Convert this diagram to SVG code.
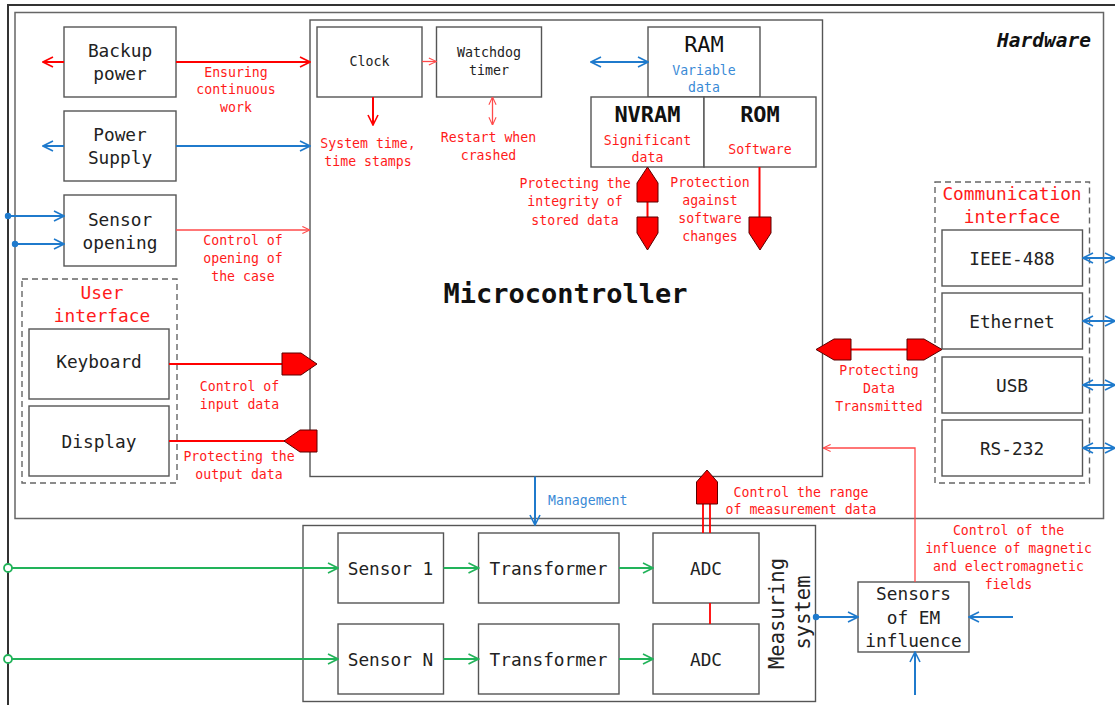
<svg xmlns="http://www.w3.org/2000/svg" width="1115" height="705" viewBox="0 0 1115 705">
<style>
text{font-family:"DejaVu Sans Mono","Liberation Mono",monospace;text-anchor:middle;dominant-baseline:central}
.box{fill:#fff;stroke:#555;stroke-width:1.4}
.dash{fill:none;stroke:#666;stroke-width:1.4;stroke-dasharray:6 4}
.t18{font-size:17.8px;fill:#222}
.t13{font-size:13.3px;fill:#222}
.r13{font-size:13.2px;fill:#ff1a1a}
.b13{font-size:13.2px;fill:#3a8ad6}
.r18{font-size:17.8px;fill:#ff1a1a}
.big{font-size:22px;fill:#111}
.red{stroke:#f00;stroke-width:2;fill:none}
.lred{stroke:#ff4a4a;stroke-width:1.3;fill:none}
.blue{stroke:#1f7acc;stroke-width:2;fill:none}
.green{stroke:#22b35a;stroke-width:2;fill:none}
.pent{fill:#f00;stroke:#5a0000;stroke-width:1}
</style>
<defs>
<marker id="ar" viewBox="0 0 12 12" refX="11" refY="6" markerWidth="12" markerHeight="12" markerUnits="userSpaceOnUse" orient="auto-start-reverse"><path d="M1,1 L11,6 L1,11" fill="none" stroke="#f00" stroke-width="1.6"/></marker>
<marker id="al" viewBox="0 0 10 10" refX="9.5" refY="5" markerWidth="9" markerHeight="9" markerUnits="userSpaceOnUse" orient="auto-start-reverse"><path d="M1,1 L9.5,5 L1,9" fill="none" stroke="#ff4a4a" stroke-width="1.2"/></marker>
<marker id="ab" viewBox="0 0 12 12" refX="11" refY="6" markerWidth="12" markerHeight="12" markerUnits="userSpaceOnUse" orient="auto-start-reverse"><path d="M1,1 L11,6 L1,11" fill="none" stroke="#1f7acc" stroke-width="1.6"/></marker>
<marker id="ag" viewBox="0 0 12 12" refX="11" refY="6" markerWidth="12" markerHeight="12" markerUnits="userSpaceOnUse" orient="auto-start-reverse"><path d="M1,1 L11,6 L1,11" fill="none" stroke="#22b35a" stroke-width="1.6"/></marker>
</defs>
<rect width="1115" height="705" fill="#fff"/>
<path d="M8,705 V5 H1115" fill="none" stroke="#333" stroke-width="2"/>
<g id="hardware">
<rect x="15" y="12.5" width="1088.5" height="506" fill="none" stroke="#666" stroke-width="1.5"/>
<text x="1044" y="40" style="font-size:19.5px;font-weight:bold;font-style:italic;fill:#111">Hardware</text>
</g>
<g id="microcontroller">
<rect class="box" x="310" y="20" width="512.5" height="456.5"/>
<text x="565.5" y="293" style="font-size:27px;font-weight:bold;fill:#111">Microcontroller</text>
</g>
<g id="backup-power"><rect class="box" x="64" y="27" width="112" height="70"/><text class="t18" x="120" y="50">Backup</text><text class="t18" x="120" y="73">power</text></g>
<g id="power-supply"><rect class="box" x="64" y="111" width="112" height="70"/><text class="t18" x="120" y="134">Power</text><text class="t18" x="120" y="157">Supply</text></g>
<g id="sensor-opening"><rect class="box" x="64" y="195" width="112" height="71"/><text class="t18" x="120" y="219">Sensor</text><text class="t18" x="120" y="242">opening</text></g>
<g id="user-interface"><rect class="dash" x="22" y="279" width="155" height="204"/><text class="r18" x="102" y="292.5">User</text><text class="r18" x="102" y="315.5">interface</text></g>
<g id="keyboard"><rect class="box" x="29" y="329" width="140" height="70"/><text class="t18" x="99" y="361">Keyboard</text></g>
<g id="display"><rect class="box" x="29" y="406" width="140" height="70"/><text class="t18" x="99" y="441">Display</text></g>
<g id="clock"><rect class="box" x="317" y="27" width="105" height="70"/><text class="t13" x="369.5" y="61">Clock</text></g>
<g id="watchdog"><rect class="box" x="436.5" y="27" width="105" height="70"/><text class="t13" x="489" y="52.5">Watchdog</text><text class="t13" x="489" y="70">timer</text></g>
<g id="ram"><rect class="box" x="648" y="27" width="112" height="70"/><text class="big" x="704" y="44">RAM</text><text class="b13" x="704" y="70">Variable</text><text class="b13" x="704" y="87.5">data</text></g>
<g id="nvram"><rect class="box" x="591" y="97" width="113" height="70"/><text class="big" x="647.5" y="114" style="font-weight:bold">NVRAM</text><text class="r13" x="647.5" y="140">Significant</text><text class="r13" x="647.5" y="157">data</text></g>
<g id="rom"><rect class="box" x="704" y="97" width="112" height="70"/><text class="big" x="760" y="114" style="font-weight:bold">ROM</text><text class="r13" x="760" y="149">Software</text></g>
<g id="communication-interface"><rect class="dash" x="935" y="182" width="154.5" height="301"/><text class="r18" x="1012" y="193.5">Communication</text><text class="r18" x="1012" y="216.5">interface</text></g>
<g id="ieee488"><rect class="box" x="942" y="230" width="140.5" height="56"/><text class="t18" x="1012" y="258">IEEE-488</text></g>
<g id="ethernet"><rect class="box" x="942" y="293" width="140.5" height="56"/><text class="t18" x="1012" y="321">Ethernet</text></g>
<g id="usb"><rect class="box" x="942" y="357" width="140.5" height="56"/><text class="t18" x="1012" y="385">USB</text></g>
<g id="rs232"><rect class="box" x="942" y="420" width="140.5" height="56"/><text class="t18" x="1012" y="448">RS-232</text></g>
<g id="measuring-system"><rect class="box" x="303" y="525.5" width="512.5" height="176"/><text x="0" y="0" transform="translate(776.5,613.5) rotate(-90)" style="font-size:20.5px;fill:#222">Measuring</text><text x="0" y="0" transform="translate(803,612.5) rotate(-90)" style="font-size:20.5px;fill:#222">system</text></g>
<g id="sensor-1"><rect class="box" x="338" y="533" width="105.5" height="70"/><text class="t18" x="390.5" y="568">Sensor 1</text></g>
<g id="sensor-n"><rect class="box" x="338" y="624" width="105.5" height="70"/><text class="t18" x="390.5" y="659">Sensor N</text></g>
<g id="transformer-1"><rect class="box" x="478.5" y="533" width="140.5" height="70"/><text class="t18" x="548.5" y="568">Transformer</text></g>
<g id="transformer-n"><rect class="box" x="478.5" y="624" width="140.5" height="70"/><text class="t18" x="548.5" y="659">Transformer</text></g>
<g id="adc-1"><rect class="box" x="653" y="533" width="106" height="70"/><text class="t18" x="706" y="568">ADC</text></g>
<g id="adc-n"><rect class="box" x="653" y="624" width="106" height="70"/><text class="t18" x="706" y="659">ADC</text></g>
<g id="em-sensors"><rect class="box" x="858" y="582" width="111" height="70"/><text class="t18" x="913.5" y="593.5">Sensors</text><text class="t18" x="913.5" y="617">of EM</text><text class="t18" x="913.5" y="640">influence</text></g>
<g id="connectors">
<line class="red" x1="64" y1="62" x2="43" y2="62" marker-end="url(#ar)"/>
<line class="red" x1="176" y1="62" x2="310" y2="62" marker-end="url(#ar)"/>
<text class="r13" x="236" y="72">Ensuring</text><text class="r13" x="236" y="89.5">continuous</text><text class="r13" x="236" y="107">work</text>
<line class="blue" x1="64" y1="146" x2="43" y2="146" marker-end="url(#ab)"/>
<line class="blue" x1="176" y1="146" x2="310" y2="146" marker-end="url(#ab)"/>
<line class="blue" x1="8" y1="216" x2="64" y2="216" marker-end="url(#ab)"/>
<line class="blue" x1="15" y1="244" x2="64" y2="244" marker-end="url(#ab)"/>
<circle cx="8" cy="216" r="3.2" fill="#1f7acc"/><circle cx="15" cy="244" r="3.2" fill="#1f7acc"/>
<line class="lred" x1="176" y1="230" x2="310" y2="230" marker-end="url(#al)"/>
<text class="r13" x="243" y="240.5">Control of</text><text class="r13" x="243" y="258.5">opening of</text><text class="r13" x="243" y="276.5">the case</text>
<line class="red" x1="169" y1="364" x2="282" y2="364"/>
<polygon class="pent" points="282,353 301,353 317,364 301,375 282,375"/>
<text class="r13" x="239.5" y="386.5">Control of</text><text class="r13" x="239.5" y="404">input data</text>
<line class="red" x1="169" y1="441" x2="285" y2="441"/>
<polygon class="pent" points="317,430 300,430 284,441 300,452 317,452"/>
<text class="r13" x="239" y="456.5">Protecting the</text><text class="r13" x="239" y="474">output data</text>
<line class="lred" x1="422" y1="61.5" x2="436.5" y2="61.5" marker-end="url(#al)"/>
<line class="red" x1="373" y1="97" x2="373" y2="125" marker-end="url(#ar)"/>
<text class="r13" x="368" y="143.5">System time,</text><text class="r13" x="368" y="161.5">time stamps</text>
<line class="lred" x1="492.5" y1="97" x2="492.5" y2="125" marker-start="url(#al)" marker-end="url(#al)"/>
<text class="r13" x="488.5" y="137">Restart when</text><text class="r13" x="488.5" y="155">crashed</text>
<line class="blue" x1="591" y1="62" x2="648" y2="62" marker-start="url(#ab)" marker-end="url(#ab)"/>
<line class="red" x1="647.5" y1="200" x2="647.5" y2="218"/>
<polygon class="pent" points="637,202 637,183 647.5,167 658,183 658,202"/>
<polygon class="pent" points="637,217 658,217 658,233 647.5,250 637,233"/>
<text class="r13" x="575" y="183.5">Protecting the</text><text class="r13" x="575" y="201.5">integrity of</text><text class="r13" x="575" y="220">stored data</text>
<line class="red" x1="759.5" y1="167" x2="759.5" y2="218"/>
<polygon class="pent" points="749,217 771,217 771,233 760,250 749,233"/>
<text class="r13" x="710" y="182.5">Protection</text><text class="r13" x="710" y="200">against</text><text class="r13" x="710" y="218">software</text><text class="r13" x="710" y="236">changes</text>
<line class="red" x1="850" y1="349.5" x2="908" y2="349.5"/>
<polygon class="pent" points="851,339 834,339 816,349.5 834,360 851,360"/>
<polygon class="pent" points="907,339 924,339 942,349.5 924,360 907,360"/>
<text class="r13" x="879" y="370">Protecting</text><text class="r13" x="879" y="388">Data</text><text class="r13" x="879" y="406">Transmitted</text>
<line class="blue" x1="1083" y1="258" x2="1115" y2="258" marker-start="url(#ab)" marker-end="url(#ab)"/>
<line class="blue" x1="1083" y1="321" x2="1115" y2="321" marker-start="url(#ab)" marker-end="url(#ab)"/>
<line class="blue" x1="1083" y1="385" x2="1115" y2="385" marker-start="url(#ab)" marker-end="url(#ab)"/>
<line class="blue" x1="1083" y1="448" x2="1115" y2="448" marker-start="url(#ab)" marker-end="url(#ab)"/>
<polyline class="lred" points="915,582 915,448 823,448" marker-end="url(#al)"/>
<text class="r13" x="1008.5" y="530">Control of the</text><text class="r13" x="1008.5" y="548">influence of magnetic</text><text class="r13" x="1008.5" y="566">and electromagnetic</text><text class="r13" x="1008.5" y="584">fields</text>
<line class="blue" x1="535" y1="476.5" x2="535" y2="525" marker-end="url(#ab)"/>
<text class="b13" x="548" y="500.5" style="text-anchor:start">Management</text>
<line stroke="#f00" stroke-width="1.8" x1="703" y1="503" x2="703" y2="533"/>
<line stroke="#f00" stroke-width="1.8" x1="710" y1="503" x2="710" y2="533"/>
<polygon class="pent" points="696.5,504 696.5,482 707,470 717.5,482 717.5,504"/>
<text class="r13" x="801" y="492">Control the range</text><text class="r13" x="801" y="509.5">of measurement data</text>
<line stroke="#f00" stroke-width="1.8" x1="710" y1="603" x2="710" y2="624"/>
<line class="green" x1="12" y1="568" x2="338" y2="568" marker-end="url(#ag)"/>
<line class="green" x1="12" y1="659" x2="338" y2="659" marker-end="url(#ag)"/>
<circle cx="8" cy="568" r="4" fill="#fff" stroke="#22b35a" stroke-width="1.8"/>
<circle cx="8" cy="659" r="4" fill="#fff" stroke="#22b35a" stroke-width="1.8"/>
<line class="green" x1="443.5" y1="568" x2="478.5" y2="568" marker-end="url(#ag)"/>
<line class="green" x1="443.5" y1="659" x2="478.5" y2="659" marker-end="url(#ag)"/>
<line class="green" x1="619" y1="568" x2="653" y2="568" marker-end="url(#ag)"/>
<line class="green" x1="619" y1="659" x2="653" y2="659" marker-end="url(#ag)"/>
<line class="blue" x1="816" y1="617" x2="858" y2="617" marker-end="url(#ab)"/>
<circle cx="816" cy="617" r="3.2" fill="#1f7acc"/>
<line class="blue" x1="1013" y1="617" x2="969" y2="617" marker-end="url(#ab)"/>
<line class="blue" x1="915" y1="695" x2="915" y2="652" marker-end="url(#ab)"/>
</g>
</svg>
